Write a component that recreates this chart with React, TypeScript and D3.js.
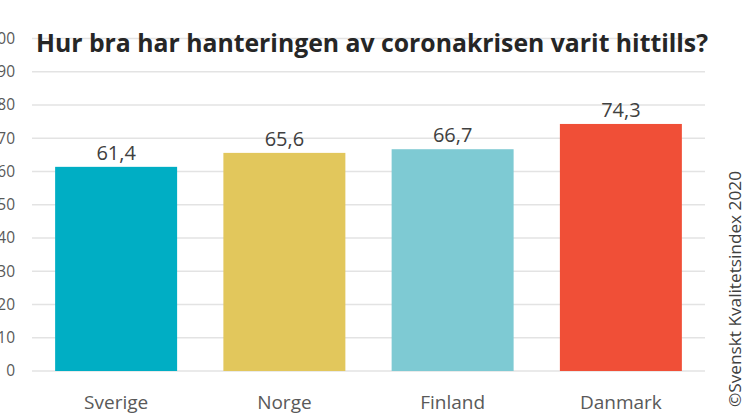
import React from "react";
import * as d3 from "d3";

const categories = ["Sverige", "Norge", "Finland", "Danmark"];
const values = [61.4, 65.6, 66.7, 74.3];
const colors = ["#00AEC4", "#E2C75C", "#7ECAD3", "#F04F37"];
const yTicks = [0, 10, 20, 30, 40, 50, 60, 70, 80, 90, 100];
const title = "Hur bra har hanteringen av coronakrisen varit hittills?";
const credit = "©Svenskt Kvalitetsindex 2020";

export default function App() {
  const W = 746, H = 419;
  const x = d3.scaleBand<string>().domain(categories).range([32, 705]).paddingInner(0.275).paddingOuter(0.1375);
  const y = d3.scaleLinear().domain([0, 100]).range([371, 38.5]);
  const font = "'Open Sans', sans-serif";
  const fmt = (v: number) => v.toFixed(1).replace(".", ",");
  return (
    <svg width={W} height={H} style={{ position: "absolute", left: 0, top: 0, background: "#fff" }}>
      {yTicks.map((t) => (
        <g key={t}>
          <line x1={32} x2={705} y1={y(t)} y2={y(t)} stroke="#E3E3E3" strokeWidth={1.3} />
          <text x={15} y={y(t)} dy="0.35em" textAnchor="end" fontFamily={font} fontSize={15.5} fill="#595959">
            {t}
          </text>
        </g>
      ))}
      {categories.map((c, i) => (
        <g key={c}>
          <rect x={x(c)} y={y(values[i])} width={x.bandwidth()} height={y(0) - y(values[i])} fill={colors[i]} />
          <text x={(x(c) as number) + x.bandwidth() / 2} y={y(values[i]) - 7} textAnchor="middle" fontFamily={font} fontSize={20} fill="#404040">
            {fmt(values[i])}
          </text>
          <text x={(x(c) as number) + x.bandwidth() / 2} y={409} textAnchor="middle" fontFamily={font} fontSize={19} fill="#595959">
            {c}
          </text>
        </g>
      ))}
      <text x={372} y={52} textAnchor="middle" fontFamily={font} fontWeight="bold" fontSize={25} fill="#262626" textLength={672} lengthAdjust="spacingAndGlyphs">
        {title}
      </text>
      <text transform={`translate(741,289) rotate(-90)`} textAnchor="middle" fontFamily={font} fontSize={16} fill="#404040" textLength={236} lengthAdjust="spacingAndGlyphs">
        {credit}
      </text>
    </svg>
  );
}
